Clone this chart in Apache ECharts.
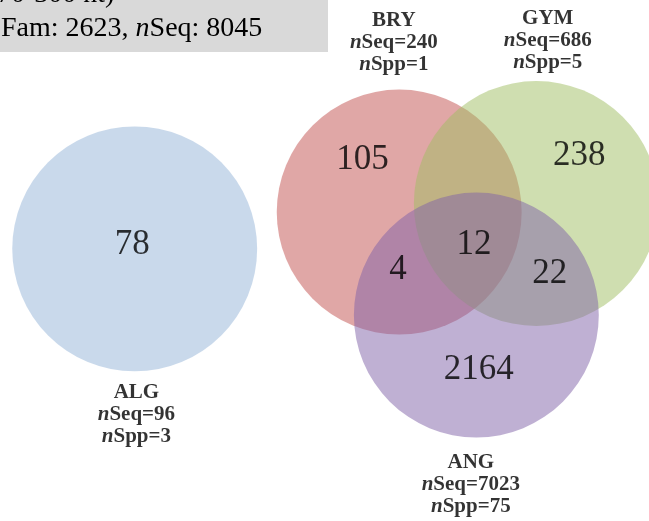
<!DOCTYPE html>
<html>
<head>
<meta charset="utf-8">
<script src="https://cdn.jsdelivr.net/npm/echarts@6/dist/echarts.min.js"></script>
<style>
  html, body { margin: 0; padding: 0; background: #ffffff; }
  #chart { width: 649px; height: 521px; }
</style>
</head>
<body>
<div id="chart"></div>
<script>
// Sequence groups with their sequence and species totals
const groups = ['ALG', 'BRY', 'GYM', 'ANG'];
const groupSeq = [96, 240, 686, 7023];
const groupSpp = [3, 1, 5, 75];

// Family counts for each Venn region
const regionNames = ['ALG', 'BRY', 'GYM', 'BRY+ANG', 'BRY+GYM+ANG', 'GYM+ANG', 'ANG'];
const regionCounts = [78, 105, 238, 4, 12, 22, 2164];

// Overall totals shown in the header box
const headerRange = '70-300 nt)';
const totalFam = 2623;
const totalSeq = 8045;

// Layout, in units of one circle radius
const circleCenters = [[1.10, 2.03], [3.26, 1.73], [4.38, 1.66], [3.89, 2.57]];
const regionPos = [[1.08, 2.00], [2.96, 1.30], [4.73, 1.27], [3.25, 2.20], [3.87, 2.00], [4.49, 2.23], [3.91, 3.02]];
const groupLabelPos = [[1.114, 3.38], [3.216, 0.347], [4.473, 0.335], [3.845, 3.95]];
const circleFills = [
  'rgba(147,179,215,0.5)',
  'rgba(193,79,77,0.5)',
  'rgba(159,189,97,0.5)',
  'rgba(127,97,167,0.5)'
];

const serif = '"Liberation Serif", "Times New Roman", serif';

const chart = echarts.init(document.getElementById('chart'), null, { renderer: 'canvas' });

chart.setOption({
  animation: false,
  backgroundColor: '#ffffff',
  grid: { left: 0, right: 0, top: 0, bottom: 0 },
  xAxis: { type: 'value', min: 0, max: 5.3, show: false },
  yAxis: { type: 'value', min: 0, max: 4.25, inverse: true, show: false },
  graphic: [
    {
      type: 'rect', x: 0, y: 0, z: 10,
      shape: { x: 0, y: 0, width: 328, height: 52 },
      style: { fill: '#d9d9d9' }
    },
    {
      type: 'text', x: -3, y: -5, z: 11,
      style: {
        text: headerRange,
        font: '28px ' + serif,
        fill: '#000000',
        align: 'left',
        verticalAlign: 'middle'
      }
    },
    {
      type: 'text', x: 1, y: 29, z: 11,
      style: {
        text: 'Fam: ' + totalFam + ', {i|n}Seq: ' + totalSeq,
        font: '28px ' + serif,
        fill: '#000000',
        align: 'left',
        verticalAlign: 'middle',
        rich: {
          i: { fontStyle: 'italic', fontSize: 28, fontFamily: serif, fill: '#000000' }
        }
      }
    }
  ],
  series: [
    {
      // one filled circle per group, radius = 1 axis unit
      type: 'custom',
      coordinateSystem: 'cartesian2d',
      silent: true,
      z: 1,
      data: circleCenters.map((c, i) => [c[0], c[1], i]),
      renderItem: function (params, api) {
        const p = api.coord([api.value(0), api.value(1)]);
        const s = api.size([1, 1]);
        return {
          type: 'circle',
          shape: { cx: p[0], cy: p[1], r: s[0] },
          style: { fill: circleFills[api.value(2)] }
        };
      }
    },
    {
      // region counts
      type: 'scatter',
      silent: true,
      z: 3,
      symbolSize: 1,
      itemStyle: { color: 'transparent' },
      data: regionPos.map((p, i) => ({ name: regionNames[i], value: [p[0], p[1], regionCounts[i]] })),
      label: {
        show: true,
        position: 'inside',
        formatter: (d) => String(d.value[2]),
        fontFamily: serif,
        fontSize: 35,
        color: '#000000'
      }
    },
    {
      // group names with totals
      type: 'scatter',
      silent: true,
      z: 3,
      symbolSize: 1,
      itemStyle: { color: 'transparent' },
      data: groupLabelPos.map((p, i) => ({ name: groups[i], value: [p[0], p[1], i] })),
      label: {
        show: true,
        position: 'inside',
        align: 'center',
        formatter: (d) => {
          const i = d.value[2];
          return '{b|' + groups[i] + '}\n{i|n}{b|Seq=' + groupSeq[i] + '}\n{i|n}{b|Spp=' + groupSpp[i] + '}';
        },
        rich: {
          b: { fontFamily: serif, fontWeight: 'bold', fontSize: 21, lineHeight: 22, color: '#000000' },
          i: { fontFamily: serif, fontWeight: 'bold', fontStyle: 'italic', fontSize: 21, lineHeight: 22, color: '#000000' }
        }
      }
    }
  ]
});
</script>
</body>
</html>
